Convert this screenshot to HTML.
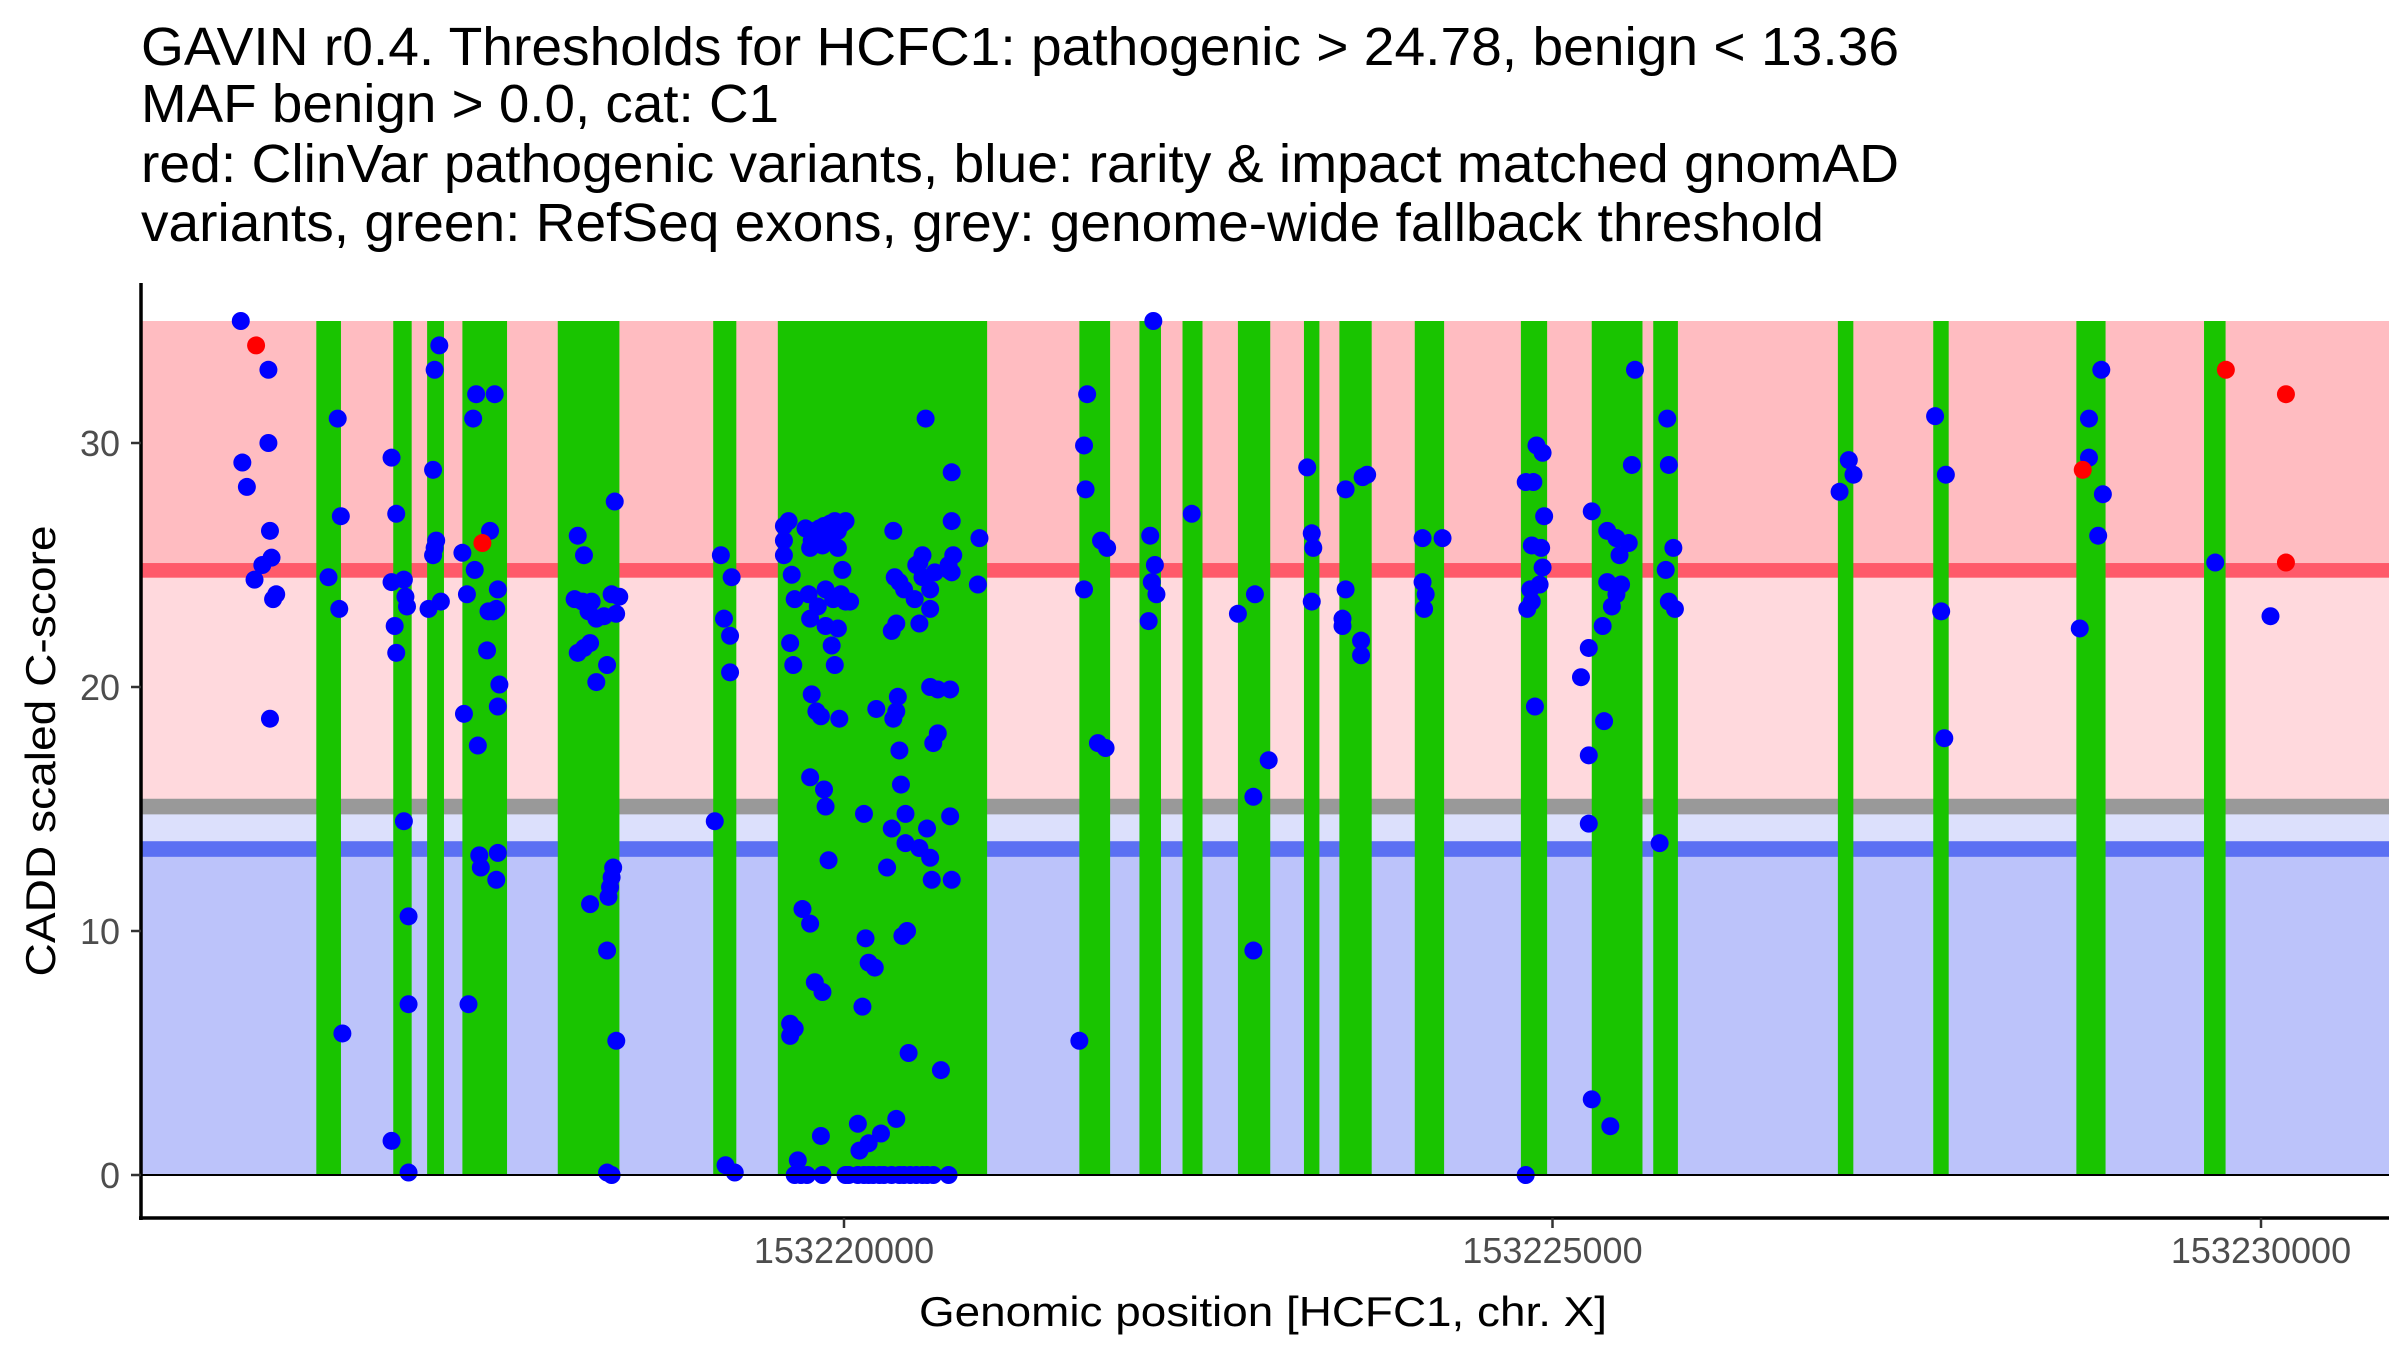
<!DOCTYPE html>
<html><head><meta charset="utf-8"><style>
html,body{margin:0;padding:0;background:#fff;}
svg{display:block;font-family:"Liberation Sans",Arial,sans-serif;}
</style></head><body>
<svg id="chart" width="2400" height="1350" viewBox="0 0 2400 1350" xmlns="http://www.w3.org/2000/svg">
<g font-size="54" fill="#000">
<text x="141" y="65" textLength="1758" lengthAdjust="spacingAndGlyphs">GAVIN r0.4. Thresholds for HCFC1: pathogenic &gt; 24.78, benign &lt; 13.36</text>
<text x="141" y="122" textLength="638" lengthAdjust="spacingAndGlyphs">MAF benign &gt; 0.0, cat: C1</text>
<text x="141" y="182" textLength="1758" lengthAdjust="spacingAndGlyphs">red: ClinVar pathogenic variants, blue: rarity &amp; impact matched gnomAD</text>
<text x="141" y="241" textLength="1683" lengthAdjust="spacingAndGlyphs">variants, green: RefSeq exons, grey: genome-wide fallback threshold</text>
</g>
<g id="bands"></g>
<g id="exons"></g>
<g id="points"></g>
<g id="axes"></g>
<text x="1263" y="1326" font-size="42" text-anchor="middle" textLength="688" lengthAdjust="spacingAndGlyphs">Genomic position [HCFC1, chr. X]</text>
<text transform="translate(55,751) rotate(-90)" font-size="42" text-anchor="middle" textLength="451" lengthAdjust="spacingAndGlyphs">CADD scaled C-score</text>
</svg>
<script>
const BASE = 153220000;
const xTicks = [153220000, 153225000, 153230000];
const yTicks = [0, 10, 20, 30];
const pathoThr = 24.78, fallbackThr = 15.1, benignThr = 13.36, yMax = 35;
const exonStart = [-3724,-3181,-2942,-2693,-2020,-923,-467,1661,2085,2389,2780,3246,3496,4028,4777,5277,5711,7014,7687,8697,9598];
const exonEnd   = [-3550,-3051,-2823,-2378,-1585,-760,1010,1878,2237,2530,3008,3355,3724,4235,4962,5635,5885,7123,7796,8903,9750];
const redPos   = [-4149,-2552,8742,9752,10176,10176];
const redScore = [34.0,25.9,28.9,33.0,32.0,25.1];
const leftPos = [-4257,-4062,-4062,-4246,-4214,-4051,-4040,-4105,-4160,-4007,-4029,-4051,
-3573,-3551,-3638,-3562,-3540,
-3193,-3160,-3193,-3171,-3160,-3106,-3095,-3084,-3106,-3073,-3073,-3193,-3073,
-2889,-2856,-2900,-2878,-2889,-2900,-2845,-2932,
-2693,-2661,-2682,-2650,
-2596,-2465,-2617,-2498,-2606,-2443,-2454,-2509,-2476,-2519,-2584,-2432,-2443,-2574,-2563,-2443,-2454,
-1879,-1835,-1901,-1846,-1781,-1803,-1748,-1879,-1835,-1792,-1748,-1694,-1672,-1618,-1640,-1586,-1608,-1629,-1640,-1651,-1662,-1792,-1672,-1607,-1672,-1640,
-869,-793,-847,-804,-804,-912,-836,-771];
const leftScore = [35.0,33.0,30.0,29.2,28.2,26.4,25.3,25.0,24.4,23.8,23.6,18.7,
31.0,27.0,24.5,23.2,5.8,
29.4,27.1,24.3,22.5,21.4,24.4,23.7,23.3,14.5,10.6,7.0,1.4,0.1,
33.0,34.0,28.9,26.0,25.7,25.4,23.5,23.2,
25.5,23.8,18.9,7.0,
32.0,32.0,31.0,26.4,24.8,24.0,23.2,23.1,23.1,21.5,17.6,20.1,19.2,13.1,12.6,13.2,12.1,
26.2,25.4,23.6,23.5,23.5,23.1,22.8,21.4,21.6,21.8,20.2,22.9,20.9,27.6,23.8,23.7,23.0,12.6,12.2,11.8,11.4,11.1,9.2,5.5,0.1,0.0,
25.4,24.5,22.8,22.1,20.6,14.5,0.4,0.1];
const clusterPos = [
-424,-424,-424,-391,-369,-348,-380,-358,-272,-239,
-228,-206,-174,-141,-98,-65,-43,-11,11,-152,
-98,-43,-250,-185,-130,-76,-22,11,43,-11,
-130,-43,-87,-65,-239,-228,-195,-163,-239,-141,
-130,-109,-293,-239,-380,-348,-380,-206,-152,141,
152,174,217,130,-33,228,304,337,348,358,
391,424,337,369,369,391,402,434,434,348,
380,445,412,456,510,532,554,554,499,532,
608,641,608,608,662,662,630,586,532,608,
619,684,576,760,760,771,738,738,760,749,
749,760,945,956,
-348,-304,-261,-152,11,33,98,141,174,206,
250,282,336,391,423,467,510,554,586,630,738,
-326,-163,98,261,369,109,174];
const clusterScore = [
26.6,26.0,25.4,26.8,24.6,23.6,21.8,20.9,26.5,25.7,
26.0,26.4,26.5,26.6,26.7,26.8,26.4,26.7,26.8,25.8,
26.0,25.7,23.8,23.3,24.0,23.6,23.8,23.5,23.5,24.8,
22.5,22.4,21.7,20.9,22.8,19.7,19.0,18.8,16.3,15.8,
15.1,12.9,10.9,10.3,6.2,6.0,5.7,7.9,7.5,14.8,
9.7,8.7,8.5,6.9,18.7,19.1,12.6,14.2,26.4,24.5,
24.3,24.0,22.3,22.6,19.0,17.4,16.0,14.8,13.6,18.7,
19.6,10.0,9.8,5.0,25.0,25.1,25.4,24.5,23.6,22.6,
23.2,24.7,24.0,20.0,19.9,18.1,17.7,14.2,13.4,13.0,
12.1,4.3,31.0,28.8,26.8,25.4,25.0,24.8,24.7,19.9,
14.7,12.1,24.2,26.1,
0,0,0,0,0,0,0,0,0,0,
0,0,0,0,0,0,0,0,0,0,0,
0.6,1.6,2.1,1.7,2.3,1.0,1.3];
const rightPos = [1716,1694,1705,1694,1814,1857,1792,1846,1661,
2183,2161,2172,2194,2205,2150,2454,
2780,2900,2889,2997,2889,
3269,3301,3312,3301,3540,3518,3540,3518,3649,3649,3692,3660,
4083,4083,4105,4094,4224,
4811,4887,4930,4865,4854,4920,4941,4930,4909,4843,4854,4822,4876,4811,
5582,5277,5386,5451,5538,5473,5386,5484,5451,5419,5354,5256,5201,5256,5364,5256,5277,5408,5560,
5810,5821,5853,5799,5821,5864,5756,
7026,7091,7124,7700,7776,7743,7765,8721,8786,8786,8873,8884,8851,9677,10067];
const rightScore = [32.0,29.9,28.1,24.0,26.0,25.7,17.7,17.5,5.5,
35.0,26.2,24.3,25.0,23.8,22.7,27.1,
23.0,23.8,15.5,17.0,9.2,
29.0,26.3,25.7,23.5,24.0,22.8,28.1,22.5,21.9,21.3,28.7,28.6,
26.1,24.3,23.8,23.2,26.1,
28.4,29.9,29.6,28.4,25.8,25.7,27.0,24.9,24.2,24.0,23.5,23.2,19.2,0.0,
33.0,27.2,26.4,26.1,25.9,25.4,24.3,24.2,23.8,23.3,22.5,21.6,20.4,17.2,18.6,14.4,3.1,2.0,29.1,
31.0,29.1,25.7,24.8,23.5,23.2,13.6,
28.0,29.3,28.7,31.1,28.7,23.1,17.9,22.4,29.4,31.0,33.0,27.9,26.2,25.1,22.9];
const NS = 'http://www.w3.org/2000/svg';
const L = 141, R = 2389;
function xs(p){ return 844 + p * 0.1417; }
function ys(v){ return 1175 - v * 24.4; }
function mk(parent, tag, attrs){ const e = document.createElementNS(NS, tag); for (const k in attrs) e.setAttribute(k, attrs[k]); parent.appendChild(e); return e; }
const bands = document.getElementById('bands');
function band(v1, v2, fill, name){
  const r = mk(bands, 'rect', {x:L, y:ys(v2), width:R-L, height:ys(v1)-ys(v2), fill:fill});
  
  
}
band(pathoThr, yMax, '#ffbcc1', 'pathogenic-band');
band(fallbackThr, pathoThr, '#ffd9dd', 'intermediate-band');
band(benignThr, fallbackThr, '#dce0fc', 'fallback-benign-band');
band(0, benignThr, '#bcc3fa', 'benign-band');
band(pathoThr - 0.3, pathoThr + 0.3, '#ff5a6a', 'pathogenic-threshold-line');
band(fallbackThr - 0.32, fallbackThr + 0.32, '#999999', 'fallback-threshold-line');
band(benignThr - 0.32, benignThr + 0.32, '#5b70f3', 'benign-threshold-line');
const ex = document.getElementById('exons');
for (let i = 0; i < exonStart.length; i++){
  const r = mk(ex, 'rect', {x:xs(exonStart[i]), y:ys(yMax), width:xs(exonEnd[i])-xs(exonStart[i]), height:ys(0)-ys(yMax), fill:'#19c400'});
  
  
}
const pts = document.getElementById('points');
function drawBlue(posArr, scoreArr){
  const n = Math.min(posArr.length, scoreArr.length);
  for (let i = 0; i < n; i++){
    const c = mk(pts, 'circle', {cx:xs(posArr[i]), cy:ys(scoreArr[i]), r:9, fill:'#0000ff'});
    
    
  }
}
drawBlue(leftPos, leftScore);
drawBlue(clusterPos, clusterScore);
drawBlue(rightPos, rightScore);
for (let i = 0; i < redPos.length; i++){
  const c = mk(pts, 'circle', {cx:xs(redPos[i]), cy:ys(redScore[i]), r:9, fill:'#ff0000'});
  
  
}
const ax = document.getElementById('axes');
const zl = mk(ax, 'line', {x1:L, x2:R, y1:ys(0), y2:ys(0), stroke:'#000', 'stroke-width':2});


const xa = mk(ax, 'line', {x1:L-2, x2:R, y1:1218, y2:1218, stroke:'#000', 'stroke-width':3.5});


const ya = mk(ax, 'line', {x1:L, x2:L, y1:283, y2:1220, stroke:'#000', 'stroke-width':3.5});


xTicks.forEach(t => {
  const x = xs(t - BASE);
  const tk = mk(ax, 'line', {x1:x, x2:x, y1:1218, y2:1228, stroke:'#333', 'stroke-width':2.5});
  
  
  const tx = mk(ax, 'text', {x:x, y:1263, 'font-size':36, fill:'#4d4d4d', 'text-anchor':'middle'});
  tx.textContent = String(t);
  
  
});
yTicks.forEach(t => {
  const y = ys(t);
  const tk = mk(ax, 'line', {x1:L-10, x2:L, y1:y, y2:y, stroke:'#333', 'stroke-width':2.5});
  
  
  const tx = mk(ax, 'text', {x:120, y:y+13, 'font-size':36, fill:'#4d4d4d', 'text-anchor':'end'});
  tx.textContent = String(t);
  
  
});
</script>
</body></html>
